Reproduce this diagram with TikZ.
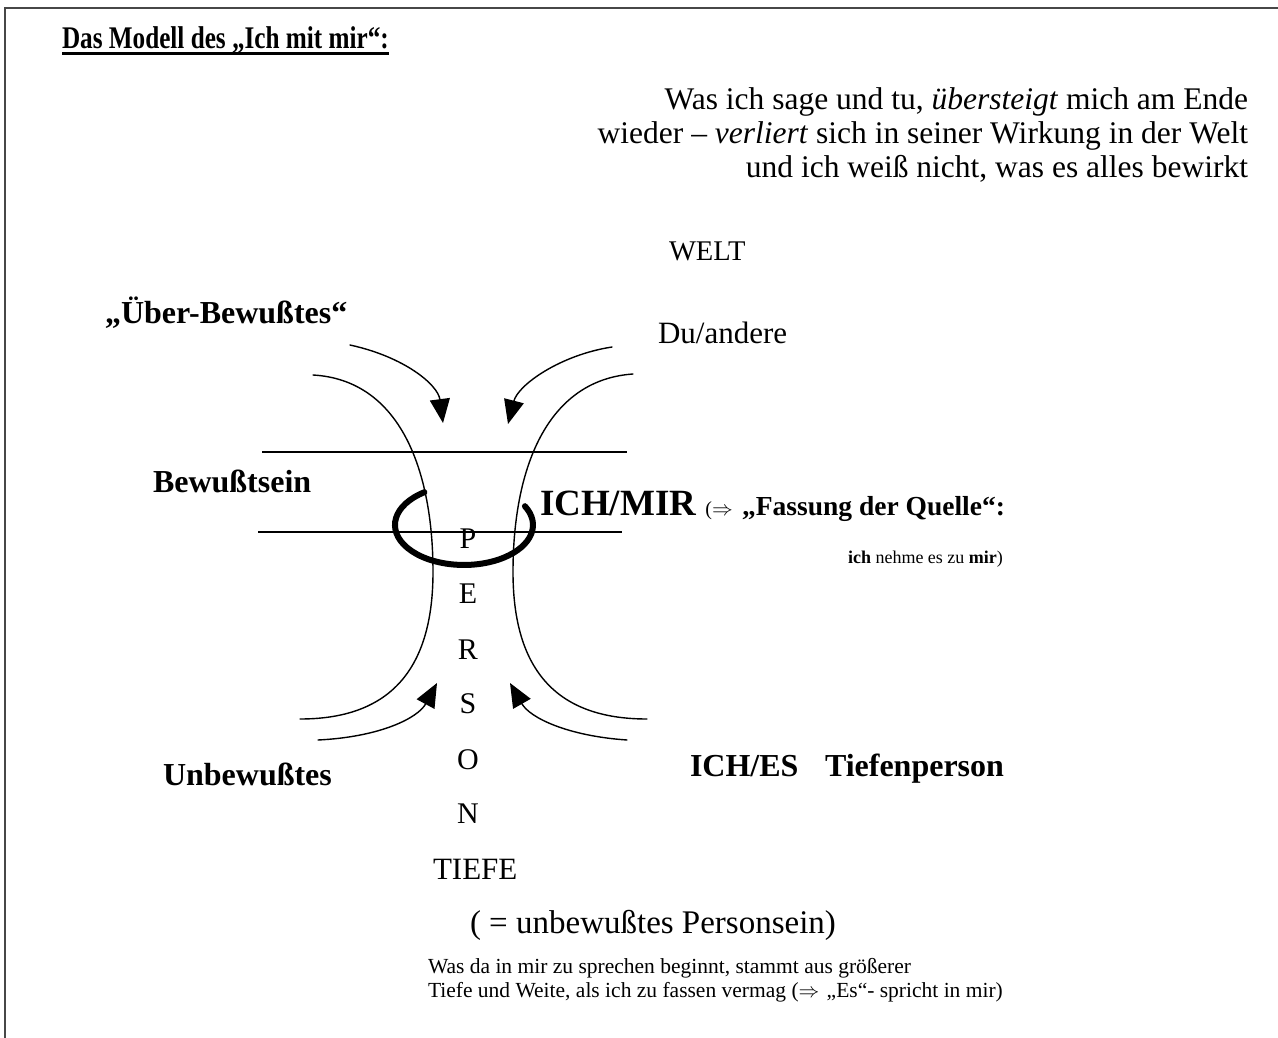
\documentclass[tikz,border=0pt]{standalone}
\usepackage{fontspec}
\setmainfont{Liberation Serif}
\newfontfamily\titlefont{Liberation Serif}[FakeStretch=0.8]
\usetikzlibrary{arrows.meta}
\begin{document}
\begin{tikzpicture}[x=1pt,y=-1pt,
  txt/.style={inner sep=0pt,outer sep=0pt,anchor=base west},
  rtxt/.style={inner sep=0pt,outer sep=0pt,anchor=base east},
  ctxt/.style={inner sep=0pt,outer sep=0pt,anchor=base},
  flowline/.style={line width=1.4pt,line cap=round},
  arr/.style={flowline,-{Triangle[length=24pt,width=20pt]}},
  levelline/.style={line width=1.5pt},
  ring/.style={line width=6pt,line cap=round},
  frameline/.style={line width=2.2pt,draw=black!72}]
\useasboundingbox (0,0) rectangle (1278,1038);
% frame
\draw[frameline] (5,1038) -- (5,8) -- (1278,8);
% title
\node[txt] (title) at (62,49) {\titlefont\fontsize{31.5}{34}\selectfont\bfseries Das Modell des „Ich mit mir“:};
\draw[line width=2.6pt] ([yshift=-4.5pt]title.base west) -- ([yshift=-4.5pt]title.base east);
% top right text
\node[rtxt] (r1) at (1248,110) {\fontsize{31.5}{34}\selectfont Was ich sage und tu, \textit{übersteigt} mich am Ende};
\node[rtxt] (r2) at (1248,144) {\fontsize{31.5}{34}\selectfont wieder – \textit{verliert} sich in seiner Wirkung in der Welt};
\node[rtxt] (r3) at (1248,178) {\fontsize{31.5}{34}\selectfont und ich weiß nicht, was es alles bewirkt};
% labels
\node[txt] (welt) at (669,260) {\fontsize{28.5}{30}\selectfont WELT};
\node[txt] (ueber) at (105,323) {\fontsize{32}{34}\selectfont\bfseries „Über-Bewußtes“};
\node[txt] (du) at (658,343) {\fontsize{31}{34}\selectfont Du/andere};
\node[txt] (bew) at (153,492) {\fontsize{32}{34}\selectfont\bfseries Bewußtsein};
\node[txt] (ichmir) at (540,515) {\fontsize{37}{40}\selectfont\bfseries ICH/MIR {\mdseries\fontsize{20}{22}\selectfont ($\Rightarrow$} {\fontsize{27.5}{30}\selectfont „Fassung der Quelle“:}};
\node[txt] (nehme) at (848,563) {\fontsize{18}{20}\selectfont\textbf{ich} nehme es zu \textbf{mir})};
\node[txt] (unbew) at (163,785) {\fontsize{32}{34}\selectfont\bfseries Unbewußtes};
\node[txt] (iches) at (690,776) {\fontsize{32}{34}\selectfont\bfseries ICH/ES};
\node[txt] (tiefenp) at (825,776) {\fontsize{32}{34}\selectfont\bfseries Tiefenperson};
% PERSON
\foreach \l/\y/\n in {P/548/p1,E/603/p2,R/659/p3,S/713/p4,O/769/p5,N/823/p6}
  \node[ctxt] (\n) at (468,\y) {\fontsize{30}{32}\selectfont \l};
\node[txt] (tiefe) at (433,879) {\fontsize{31}{34}\selectfont TIEFE};
\node[txt] (unbp) at (470,933) {\fontsize{33}{36}\selectfont ( = unbewußtes Personsein)};
\node[txt] (b1) at (428,973) {\fontsize{21.5}{24}\selectfont Was da in mir zu sprechen beginnt, stammt aus größerer};
\node[txt] (b2) at (428,997) {\fontsize{21.5}{24}\selectfont Tiefe und Weite, als ich zu fassen vermag ($\Rightarrow$\hspace{2pt} „Es“- spricht in mir)};
% level lines
\coordinate (l1a) at (262,452); \coordinate (l1b) at (627,452);
\coordinate (l2a) at (258,532); \coordinate (l2b) at (622,532);
\draw[levelline] (l1a) -- (l1b);
\draw[levelline] (l2a) -- (l2b);
% person contour
\coordinate (lt) at (313,375); \coordinate (lm) at (433,572); \coordinate (lb) at (300,719);
\coordinate (rt) at (633,374); \coordinate (rm) at (513,572); \coordinate (rb) at (647,719);
\draw[flowline] (lt) .. controls (400,380) and (433,470) .. (lm) .. controls (433,680) and (380,719) .. (lb);
\draw[flowline] (rt) .. controls (546,380) and (513,470) .. (rm) .. controls (513,680) and (566,719) .. (rb);
% arrows
\coordinate (a1s) at (350,345); \coordinate (a1e) at (443,423);
\coordinate (a2s) at (612,347); \coordinate (a2e) at (508,424);
\coordinate (a3s) at (318,740); \coordinate (a3e) at (437,683);
\coordinate (a4s) at (627,740); \coordinate (a4e) at (510,683);
\draw[arr] (a1s) .. controls (405,357) and (438,385) .. (a1e);
\draw[arr] (a2s) .. controls (560,355) and (518,385) .. (a2e);
\draw[arr] (a3s) .. controls (380,737) and (418,718) .. (a3e);
\draw[arr] (a4s) .. controls (568,736) and (530,718) .. (a4e);
% ring
\coordinate (ringstart) at (424.4,492.2);
\draw[ring] (ringstart) arc[start angle=235,end angle=-28,x radius=69,y radius=40];
\end{tikzpicture}
\end{document}
